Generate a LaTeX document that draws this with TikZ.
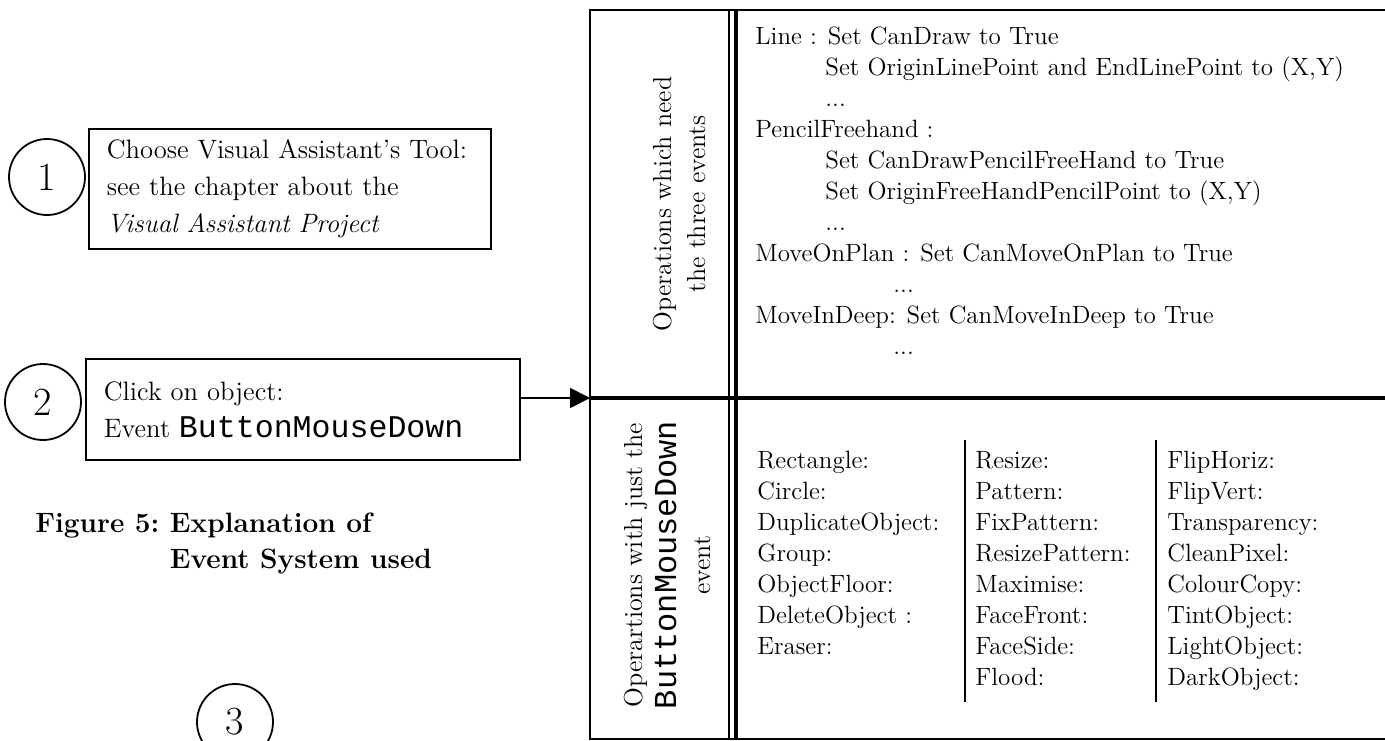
\documentclass[tikz,border=0pt]{standalone}
\usepackage{fontspec}
\setmonofont{Liberation Mono}
\usetikzlibrary{arrows.meta}
\begin{document}
\begin{tikzpicture}[x=0.5pt,y=-0.5pt,
  num/.style={draw, circle, line width=0.9pt, minimum size=38pt, inner sep=0pt, font=\fontsize{20}{24}\selectfont},
  stepbox/.style={draw, line width=0.9pt, anchor=north west, align=left, inner xsep=9pt, font=\fontsize{13.3}{18.5}\selectfont},
  cell/.style={anchor=north west, align=left, inner sep=0pt, font=\fontsize{12.5}{15.5}\selectfont},
  side/.style={rotate=90, align=center, inner sep=0pt, font=\fontsize{13}{17}\selectfont},
  rule/.style={line width=0.7pt}]
\useasboundingbox (0,0) rectangle (1385,740);
\clip (0,0) rectangle (1385,740);
\fill[white] (0,0) rectangle (1385,740);

% steps on the left
\node[num] (c1) at (47,177) {1};
\node[stepbox, text width=183pt, minimum height=60pt] (b1) at (88,128) {Choose Visual Assistant’s Tool:\\see the chapter about the\\\textit{Visual Assistant Project}};
\node[num] (c2) at (43,402) {2};
\node[stepbox, text width=199pt, minimum height=50.5pt] (b2) at (85,358) {Click on object:\\Event {\fontsize{15.8}{18.5}\ttfamily ButtonMouseDown}};
\node[num] (c3) at (235,722) {3};

\node[anchor=base west, align=left, inner sep=0pt, font=\fontsize{14}{18}\bfseries\selectfont] (cap) at (35,568) {Figure 5:\ Explanation of\\\hphantom{Figure 5:\ }Event System used};

% table
\coordinate (split) at (590,398);
\draw[line width=1pt] (590,740) -- (590,10) -- (1385,10);
\draw[rule] (729,10) -- (729,740);
\draw[line width=2pt] (736,10) -- (736,740);
\draw[line width=2pt] (split) -- (1385,398);
\draw[rule] (590,739) -- (1385,739);

\node[side] (need) at (679,204) {Operations which need\\the three events};
\node[side] (just) at (667,565) {Operartions with just the\\{\fontsize{16}{19}\ttfamily ButtonMouseDown}\\event};

\node[cell] (three) at (755,26) {Line : Set CanDraw to True\\
\hspace*{35pt}Set OriginLinePoint and EndLinePoint to (X,Y)\\
\hspace*{35pt}...\\
PencilFreehand :\\
\hspace*{35pt}Set CanDrawPencilFreeHand to True\\
\hspace*{35pt}Set OriginFreeHandPencilPoint to (X,Y)\\
\hspace*{35pt}...\\
MoveOnPlan : Set CanMoveOnPlan to True\\
\hspace*{69pt}...\\
MoveInDeep: Set CanMoveInDeep to True\\
\hspace*{69pt}...};

\node[cell] (ops1) at (757,451) {Rectangle:\\Circle:\\DuplicateObject:\\Group:\\ObjectFloor:\\DeleteObject :\\Eraser:};
\node[cell] (ops2) at (975,451) {Resize:\\Pattern:\\FixPattern:\\ResizePattern:\\Maximise:\\FaceFront:\\FaceSide:\\Flood:};
\node[cell] (ops3) at (1167,451) {FlipHoriz:\\FlipVert:\\Transparency:\\CleanPixel:\\ColourCopy:\\TintObject:\\LightObject:\\DarkObject:};
\draw[rule] (965,440) -- (965,702);
\draw[rule] (1156,440) -- (1156,702);

\draw[line width=0.9pt, -{Triangle[length=10pt,width=10pt]}] (b2.east |- split) -- (split);
\end{tikzpicture}
\end{document}
